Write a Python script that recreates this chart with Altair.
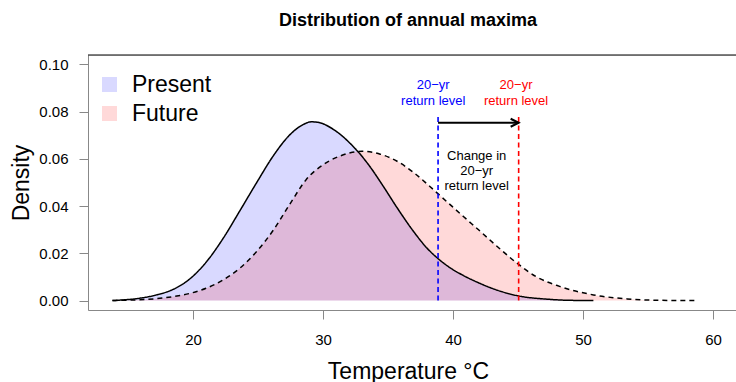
import altair as alt
import pandas as pd

# Density of annual maximum temperature, present climate (solid curve)
present_temp = [13.8, 15.9, 17.2, 18.5, 19.8, 21.0, 22.3, 23.6, 24.9, 26.2, 27.5, 28.4,
                29.1, 29.6, 30.0, 30.5, 31.3, 32.1, 32.7, 33.6, 34.6, 35.7, 37.0, 38.0, 38.8,
                39.8, 40.8, 42.1, 43.4, 45.0, 47.2, 49.0, 50.8]
present_dens = [0.0, 0.0010, 0.0024, 0.0048, 0.0094, 0.0162, 0.0262, 0.0380, 0.0500, 0.0615,
                0.0705, 0.0743, 0.0757, 0.0755, 0.0749, 0.0735, 0.0705, 0.0665, 0.0630, 0.0568,
                0.0487, 0.0393, 0.0290, 0.0222, 0.0180, 0.0138, 0.0106, 0.0072, 0.0044, 0.0020,
                0.0006, 0.0001, 0.0]

# Density of annual maximum temperature, future climate (dashed curve)
future_temp = [13.8, 17.2, 18.5, 19.8, 21.0, 22.3, 23.6, 24.9, 26.2, 27.5, 28.7, 30.0, 30.5,
               31.3, 32.1, 33.0, 34.4, 35.7, 37.0, 38.2, 39.5, 40.8, 42.1, 43.4, 45.0, 46.4,
               48.2, 50.8, 53.4, 55.9, 58.8]
future_dens = [0.0, 0.0008, 0.0017, 0.0031, 0.0052, 0.0087, 0.0137, 0.0208, 0.0300, 0.0413,
               0.0512, 0.0575, 0.0592, 0.0612, 0.0626, 0.0632, 0.0620, 0.0590, 0.0541, 0.0484,
               0.0420, 0.0356, 0.0293, 0.0229, 0.0155, 0.0101, 0.0060, 0.0024, 0.0007, 0.0001, 0.0]

# 20-year return levels
rl_present = 38.85
rl_future = 45.05
rl_line_top = 0.079
arrow_level = 0.0753

x_ticks = [20, 30, 40, 50, 60]
y_ticks = [0.0, 0.02, 0.04, 0.06, 0.08, 0.10]

FONT = "Liberation Sans"
W, H = 648, 255

present = pd.DataFrame({"temp": present_temp, "dens": present_dens, "series": "Present"})
future = pd.DataFrame({"temp": future_temp, "dens": future_dens, "series": "Future"})

xscale = alt.Scale(domain=[11.92, 61.77], nice=False, zero=False)
yscale = alt.Scale(domain=[-0.004, 0.104], nice=False, zero=False)
fill_scale = alt.Scale(domain=["Present", "Future"], range=["#0000FF", "#FF0000"])

x_axis = alt.Axis(values=x_ticks, title="Temperature °C", grid=False, tickSize=9,
                  labelPadding=13, labelFontSize=15, titleFontSize=23,
                  titleFontWeight="normal", titleY=68, titleBaseline="alphabetic",
                  titleX=W / 2 - 4)
y_axis = alt.Axis(values=y_ticks, format=".2f", title="Density", grid=False, tickSize=9,
                  labelPadding=11, labelFontSize=15, titleFontSize=23,
                  titleFontWeight="normal", titleAngle=270, titleX=-60, titleY=H / 2,
                  titleBaseline="alphabetic", titleAlign="center")

legend = alt.Legend(orient="none", legendX=10, legendY=18, title=None, symbolType="square",
                    symbolSize=225, symbolStrokeWidth=0, symbolOpacity=0.15,
                    labelFontSize=23, labelFont=FONT, labelColor="black", labelOffset=11,
                    rowPadding=5, padding=0)


def xq(field):
    return alt.X(field, type="quantitative", scale=xscale, axis=x_axis)


def yq(field):
    return alt.Y(field, type="quantitative", scale=yscale, axis=y_axis)


def area(df):
    return alt.Chart(df).mark_area(fillOpacity=0.15, opacity=1, interpolate="monotone").encode(
        x=xq("temp"), y=yq("dens"),
        fill=alt.Fill("series:N", scale=fill_scale, legend=legend),
    )


def curve(df, dash):
    return alt.Chart(df).mark_line(color="black", strokeWidth=1.5, strokeDash=dash,
                                   interpolate="monotone").encode(x=xq("temp"), y=yq("dens"))


rl_df = pd.DataFrame({"temp": [rl_present, rl_future], "lo": [0.0, 0.0],
                      "hi": [rl_line_top, rl_line_top], "col": ["#0000FF", "#FF0000"]})
rl_rules = alt.Chart(rl_df).mark_rule(strokeWidth=1.6, strokeDash=[5, 3.5]).encode(
    x=xq("temp"), y=yq("lo"), y2="hi:Q",
    color=alt.Color("col:N", scale=None),
)

arrow_df = pd.DataFrame({"temp": [rl_present], "x1": [rl_future], "dens": [arrow_level]})
arrow_shaft = alt.Chart(arrow_df).mark_rule(color="black", strokeWidth=2).encode(
    x=xq("temp"), x2="x1:Q", y=yq("dens"),
)
arrow_head = alt.Chart(pd.DataFrame({"temp": [rl_future], "dens": [arrow_level]})).mark_point(
    shape="M -1 -0.5 L 0 0 L -1 0.5", size=256, filled=False, color="black",
    strokeWidth=2, opacity=1,
).encode(x=xq("temp"), y=yq("dens"))

label_df = pd.DataFrame({
    "temp": [38.48, 38.48, 44.85, 44.85, 41.82, 41.82, 41.82],
    "dens": [0.0911, 0.0845, 0.0911, 0.0845, 0.0611, 0.0547, 0.0484],
    "text": ["20−yr", "return level", "20−yr", "return level",
             "Change in", "20−yr", "return level"],
    "col": ["#0000FF", "#0000FF", "#FF0000", "#FF0000", "black", "black", "black"],
})
labels = alt.Chart(label_df).mark_text(fontSize=13, font=FONT, baseline="middle",
                                       align="center").encode(
    x=xq("temp"), y=yq("dens"),
    text="text:N",
    color=alt.Color("col:N", scale=None),
)

# top edge of the plot frame (left and bottom come from the axis lines)
frame_top = alt.Chart(pd.DataFrame({"k": [0]})).mark_rule(color="black", strokeWidth=1).encode(
    x=alt.value(0), x2=alt.value(W), y=alt.value(0)
)

chart = alt.layer(
    area(present), area(future),
    curve(present, [1, 0]), curve(future, [5, 4]),
    rl_rules, arrow_shaft, arrow_head, labels, frame_top,
).properties(
    width=W, height=H,
    autosize=alt.AutoSizeParams(type="none"),
    padding={"left": 88, "top": 55, "right": 0, "bottom": 72},
    title=alt.TitleParams("Distribution of annual maxima", font=FONT, fontSize=18,
                          fontWeight="bold", color="black", anchor="middle",
                          baseline="alphabetic", offset=11, dx=-4, frame="group"),
).configure_view(stroke=None).configure_axis(
    domainColor="black", tickColor="black", labelColor="black", titleColor="black",
    labelFont=FONT, titleFont=FONT, domainWidth=1, tickWidth=1,
).configure(background="white")

chart.save("out.html", embed_options={"renderer": "svg", "actions": False})
